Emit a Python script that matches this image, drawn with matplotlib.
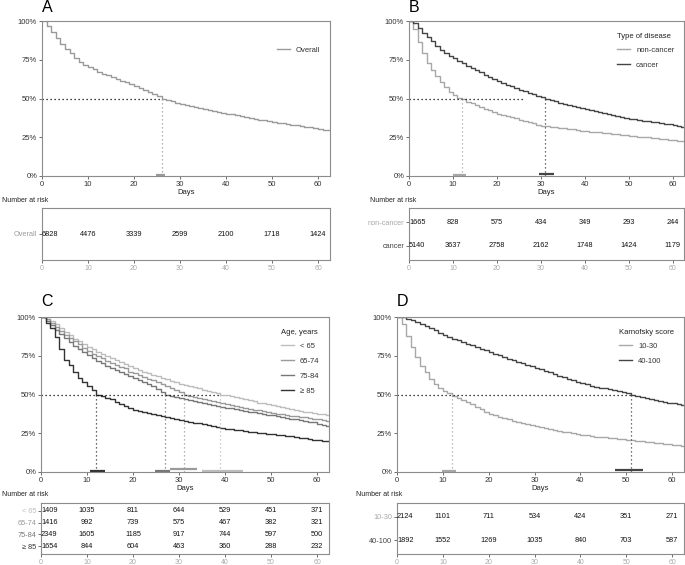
import numpy as np
import matplotlib
matplotlib.use('Agg')
import matplotlib.pyplot as plt

plt.rcParams['font.family'] = ['Liberation Sans', 'DejaVu Sans']

# survival estimates, one value per day 0..63
days = list(range(64))
overall = [1.000, 0.968, 0.931, 0.888, 0.853, 0.821, 0.791, 0.762, 0.737, 0.718,
           0.702, 0.688, 0.674, 0.661, 0.649, 0.638, 0.626, 0.615, 0.604, 0.593,
           0.582, 0.569, 0.556, 0.543, 0.530, 0.516, 0.500, 0.491, 0.482, 0.474,
           0.467, 0.460, 0.453, 0.446, 0.440, 0.434, 0.428, 0.421, 0.415, 0.409,
           0.403, 0.397, 0.392, 0.386, 0.381, 0.376, 0.370, 0.364, 0.359, 0.354,
           0.349, 0.344, 0.340, 0.335, 0.331, 0.327, 0.322, 0.318, 0.314, 0.310,
           0.306, 0.300, 0.295, 0.289]
noncancer = [1.000, 0.948, 0.862, 0.791, 0.726, 0.685, 0.644, 0.608, 0.571, 0.541,
             0.522, 0.506, 0.494, 0.480, 0.468, 0.457, 0.446, 0.435, 0.424, 0.413,
             0.403, 0.395, 0.387, 0.379, 0.371, 0.364, 0.356, 0.348, 0.340, 0.332,
             0.325, 0.321, 0.318, 0.314, 0.311, 0.308, 0.304, 0.301, 0.297, 0.293,
             0.289, 0.286, 0.284, 0.281, 0.279, 0.276, 0.273, 0.270, 0.267, 0.263,
             0.259, 0.256, 0.254, 0.251, 0.249, 0.246, 0.243, 0.240, 0.237, 0.234,
             0.231, 0.229, 0.226, 0.224]
cancer = [1.000, 0.985, 0.955, 0.925, 0.895, 0.868, 0.840, 0.815, 0.795, 0.777,
          0.761, 0.745, 0.726, 0.711, 0.697, 0.683, 0.668, 0.654, 0.641, 0.628,
          0.612, 0.601, 0.590, 0.579, 0.568, 0.558, 0.548, 0.538, 0.528, 0.519,
          0.509, 0.500, 0.491, 0.482, 0.474, 0.466, 0.458, 0.451, 0.444, 0.437,
          0.430, 0.424, 0.418, 0.412, 0.406, 0.400, 0.394, 0.388, 0.382, 0.376,
          0.370, 0.366, 0.362, 0.358, 0.354, 0.350, 0.346, 0.342, 0.338, 0.334,
          0.329, 0.324, 0.319, 0.313]
age_lt65 = [1.000, 0.990, 0.972, 0.952, 0.930, 0.906, 0.882, 0.861, 0.842, 0.823,
            0.806, 0.791, 0.777, 0.763, 0.749, 0.733, 0.720, 0.707, 0.694, 0.682,
            0.670, 0.659, 0.648, 0.637, 0.627, 0.617, 0.607, 0.597, 0.588, 0.579,
            0.570, 0.562, 0.554, 0.546, 0.539, 0.532, 0.525, 0.518, 0.511, 0.500,
            0.497, 0.490, 0.483, 0.476, 0.469, 0.462, 0.455, 0.448, 0.442, 0.436,
            0.430, 0.424, 0.418, 0.412, 0.406, 0.400, 0.394, 0.389, 0.384, 0.379,
            0.375, 0.372, 0.369, 0.366]
age_65_74 = [1.000, 0.985, 0.962, 0.937, 0.912, 0.887, 0.864, 0.843, 0.823, 0.800,
             0.778, 0.762, 0.747, 0.733, 0.719, 0.705, 0.692, 0.680, 0.668, 0.647,
             0.636, 0.625, 0.614, 0.603, 0.592, 0.581, 0.570, 0.557, 0.543, 0.529,
             0.515, 0.500, 0.492, 0.484, 0.477, 0.470, 0.463, 0.456, 0.449, 0.442,
             0.436, 0.430, 0.424, 0.418, 0.412, 0.407, 0.402, 0.397, 0.392, 0.387,
             0.382, 0.377, 0.372, 0.368, 0.364, 0.360, 0.356, 0.352, 0.348, 0.344,
             0.340, 0.336, 0.332, 0.328]
age_75_84 = [1.000, 0.976, 0.948, 0.918, 0.890, 0.863, 0.838, 0.815, 0.794, 0.772,
             0.753, 0.735, 0.718, 0.702, 0.687, 0.673, 0.659, 0.645, 0.632, 0.620,
             0.609, 0.596, 0.582, 0.567, 0.552, 0.537, 0.519, 0.500, 0.492, 0.485,
             0.478, 0.471, 0.464, 0.457, 0.450, 0.444, 0.438, 0.432, 0.426, 0.420,
             0.415, 0.410, 0.405, 0.400, 0.395, 0.390, 0.385, 0.380, 0.375, 0.370,
             0.365, 0.360, 0.355, 0.350, 0.345, 0.340, 0.335, 0.330, 0.325, 0.320,
             0.311, 0.304, 0.297, 0.290]
age_ge85 = [1.000, 0.961, 0.929, 0.871, 0.796, 0.725, 0.688, 0.645, 0.609, 0.581,
            0.556, 0.527, 0.500, 0.489, 0.478, 0.468, 0.454, 0.440, 0.426, 0.412,
            0.398, 0.391, 0.385, 0.379, 0.373, 0.366, 0.360, 0.353, 0.346, 0.340,
            0.333, 0.328, 0.323, 0.318, 0.313, 0.308, 0.302, 0.296, 0.291, 0.285,
            0.280, 0.276, 0.272, 0.268, 0.264, 0.260, 0.256, 0.253, 0.250, 0.246,
            0.243, 0.240, 0.237, 0.233, 0.230, 0.226, 0.222, 0.218, 0.214, 0.209,
            0.204, 0.200, 0.197, 0.196]
kps_10_30 = [1.000, 0.957, 0.877, 0.806, 0.742, 0.682, 0.645, 0.602, 0.570, 0.542,
             0.520, 0.508, 0.490, 0.478, 0.465, 0.452, 0.437, 0.421, 0.405, 0.390,
             0.376, 0.366, 0.357, 0.348, 0.340, 0.332, 0.324, 0.316, 0.309, 0.302,
             0.295, 0.289, 0.283, 0.277, 0.271, 0.266, 0.261, 0.256, 0.251, 0.246,
             0.240, 0.236, 0.232, 0.229, 0.226, 0.223, 0.220, 0.217, 0.214, 0.211,
             0.207, 0.204, 0.201, 0.198, 0.195, 0.192, 0.189, 0.186, 0.183, 0.180,
             0.176, 0.172, 0.169, 0.166]
kps_40_100 = [1.000, 0.997, 0.990, 0.980, 0.968, 0.957, 0.943, 0.929, 0.914, 0.898,
              0.883, 0.872, 0.861, 0.850, 0.839, 0.828, 0.817, 0.806, 0.795, 0.784,
              0.772, 0.762, 0.752, 0.742, 0.732, 0.722, 0.712, 0.702, 0.692, 0.682,
              0.672, 0.662, 0.652, 0.642, 0.632, 0.622, 0.612, 0.602, 0.592, 0.583,
              0.574, 0.566, 0.558, 0.551, 0.545, 0.539, 0.533, 0.527, 0.521, 0.514,
              0.507, 0.500, 0.493, 0.486, 0.479, 0.472, 0.466, 0.460, 0.454, 0.448,
              0.443, 0.437, 0.431, 0.425]

# median survival (days) and confidence bars (lower, upper, height)
med_a = [26]
ci_a = [(24.7, 26.8, 0.008)]
med_b = [12, 31]
ci_b = [(10.0, 13.0, 0.008), (29.7, 32.9, 0.010)]
med_c = [39, 31, 27, 12]
ci_c = [(34.9, 43.8, 0.008), (28.0, 33.8, 0.020), (24.8, 28.0, 0.008), (10.7, 13.9, 0.008)]
med_d = [12, 51]
ci_d = [(9.9, 12.9, 0.008), (47.5, 53.6, 0.010)]

risk_days = [0, 10, 20, 30, 40, 50, 60]
risk_a = [[6828, 4476, 3339, 2599, 2100, 1718, 1424]]
risk_b = [[1665, 828, 575, 434, 349, 293, 244],
          [5140, 3637, 2758, 2162, 1748, 1424, 1179]]
risk_c = [[1409, 1035, 811, 644, 529, 451, 371],
          [1416, 992, 739, 575, 467, 382, 321],
          [2349, 1605, 1185, 917, 744, 597, 500],
          [1654, 844, 604, 463, 360, 288, 232]]
risk_d = [[2124, 1101, 711, 534, 424, 351, 271],
          [1892, 1552, 1269, 1035, 840, 703, 587]]

W, H = 685, 565
fig = plt.figure(figsize=(W / 100, H / 100), dpi=100)


def box(l, t, r, b):
    return [l / W, 1 - b / H, (r - l) / W, (b - t) / H]


spine_col = '#8c8c8c'


def style(ax):
    for s in ax.spines.values():
        s.set_color(spine_col)
        s.set_linewidth(0.8)
    ax.tick_params(length=2, width=0.6, color='#555555', pad=1.5)


def km(ax, curves, cols, labels, meds, cis, title, hline_end):
    for y, c, lab in zip(curves, cols, labels):
        ax.step(days, y, where='post', color=c, lw=1.0, label=lab)
    ax.plot([0, hline_end], [0.5, 0.5], ls=(0, (1, 2.2)), color='black', lw=0.9)
    for m, c in zip(meds, cols):
        ax.plot([m, m], [0, 0.5], ls=(0, (1, 2.2)), color=c, lw=0.9)
    for (x0, x1, h), c in zip(cis, cols):
        ax.plot([x0, x1], [h, h], color=c, lw=1.6, solid_capstyle='butt', clip_on=False)
    ax.set_xlim(0, 62.6)
    ax.set_ylim(0, 1)
    ax.set_xticks(risk_days)
    ax.set_yticks([0, 0.25, 0.5, 0.75, 1.0])
    ax.set_yticklabels(['0%', '25%', '50%', '75%', '100%'])
    style(ax)
    ax.tick_params(labelsize=5.5, labelcolor='#333333')
    ax.set_xlabel('Days', fontsize=5.5, labelpad=1, color='#222222')
    leg = ax.legend(loc='upper right', bbox_to_anchor=(0.99, 0.97), frameon=False,
                    fontsize=5.5, title=title, title_fontsize=5.5, handlelength=1.7,
                    handletextpad=0.8, labelspacing=1.0, alignment='left')
    leg.get_title().set_color('#222222')
    leg._legend_box.sep = 5
    for t in leg.get_texts():
        t.set_color('#333333')


def table(ax, rows, cols, labels, pad):
    n = len(rows)
    for i, row in enumerate(rows):
        for d, v in zip(risk_days, row):
            ax.text(d, i, str(v), ha='left' if d == 0 else 'center', va='center',
                    fontsize=5.3, color='#111111')
    ax.set_xlim(0, 62.6)
    ax.set_ylim(n - 0.5 + pad, -0.5 - pad)
    ax.set_xticks(risk_days)
    ax.set_yticks(range(n))
    ax.set_yticklabels(labels)
    style(ax)
    ax.tick_params(labelsize=5.3)
    ax.tick_params(axis='x', labelcolor='#aaaaaa', labelsize=5)
    for t, c in zip(ax.get_yticklabels(), cols):
        t.set_color(c)


# panel A
cols_a = ['#9a9a9a']
ax = fig.add_axes(box(42, 21, 330, 176))
km(ax, [overall], cols_a, ['Overall'], med_a, ci_a, ' ', 26)
ax = fig.add_axes(box(42, 208, 330, 260))
table(ax, risk_a, cols_a, ['Overall'], 0.5)

# panel B
cols_b = ['#a8a8a8', '#444444']
ax = fig.add_axes(box(409, 21, 684, 176))
km(ax, [noncancer, cancer], cols_b, ['non-cancer', 'cancer'], med_b, ci_b,
   'Type of disease', 26)
ax = fig.add_axes(box(409, 208, 684, 260))
table(ax, risk_b, cols_b, ['non-cancer', 'cancer'], 0.1)

# panel C
cols_c = ['#bdbdbd', '#9a9a9a', '#777777', '#333333']
lab_c = ['< 65', '65-74', '75-84', '≥ 85']
ax = fig.add_axes(box(41, 317, 329, 472))
km(ax, [age_lt65, age_65_74, age_75_84, age_ge85], cols_c, lab_c, med_c, ci_c,
   'Age, years', 39)
ax = fig.add_axes(box(41, 503, 329, 554))
table(ax, risk_c, cols_c, lab_c, 0.15)

# panel D
cols_d = ['#a8a8a8', '#444444']
ax = fig.add_axes(box(397, 317, 684, 472))
km(ax, [kps_10_30, kps_40_100], cols_d, ['10-30', '40-100'], med_d, ci_d,
   'Karnofsky score', 51)
ax = fig.add_axes(box(397, 503, 684, 554))
table(ax, risk_d, cols_d, ['10-30', '40-100'], 0.1)

# panel letters and table headers
for lab, x, y in [('A', 42, 8), ('B', 409, 8), ('C', 41, 302), ('D', 397, 302)]:
    fig.text(x / W, 1 - y / H, lab, fontsize=11.5, ha='left', va='center')
for x, y in [(2, 200), (370, 200), (2, 494), (356, 494)]:
    fig.text(x / W, 1 - y / H, 'Number at risk', fontsize=5, ha='left', va='center',
             color='#222222')

fig.savefig('out.png', dpi=100)
